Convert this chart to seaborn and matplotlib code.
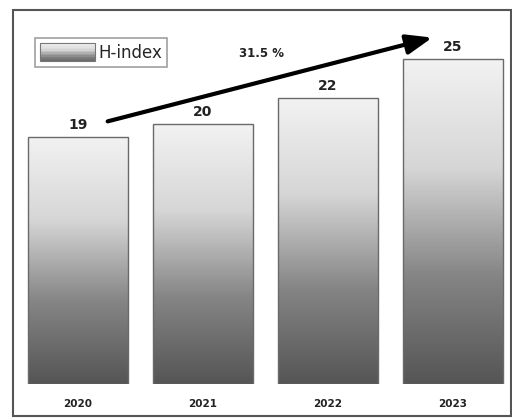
import numpy as np
import pandas as pd
import matplotlib
matplotlib.use("Agg")
import matplotlib.pyplot as plt
import seaborn as sns
from matplotlib.patches import Rectangle
from matplotlib.legend_handler import HandlerBase
from matplotlib.colors import LinearSegmentedColormap

# data
years = ["2020", "2021", "2022", "2023"]
h_index = [19, 20, 22, 25]
growth_label = "31.5 %"

df = pd.DataFrame({"Year": years, "H-index": h_index})

sns.set_theme(style="white")
plt.rcParams["font.family"] = ["DejaVu Sans"]

W, H = 512, 418
fig = plt.figure(figsize=(W / 100, H / 100), dpi=100)
fig.patch.set_facecolor("white")

# axes placed so that the frame lines up with the scanned chart
ax = fig.add_axes([13 / W, (H - 384) / H, 498 / W, 374 / H])
gray_cmap = LinearSegmentedColormap.from_list(
    "scan", ["#555555", "#858585", "#d6d6d6", "#f2f2f2"])

sns.barplot(data=df, x="Year", y="H-index", color="#999999", width=0.8,
            edgecolor="#6a6a6a", linewidth=1.0, ax=ax)

grad = np.linspace(0, 1, 256).reshape(-1, 1)
for p in ax.patches:
    x0, y0 = p.get_x(), p.get_y()
    w, h = p.get_width(), p.get_height()
    im = ax.imshow(grad, cmap=gray_cmap, origin="lower", aspect="auto",
                   extent=[x0, x0 + w, y0, y0 + h], zorder=p.get_zorder() - 0.1)
    im.set_clip_path(p)
    p.set_facecolor("none")

ax.set_xlim(-0.52, 3.464)
ax.set_ylim(0, 28.77)

for i, v in enumerate(h_index):
    ax.text(i, v + 0.35, str(v), ha="center", va="bottom",
            fontsize=10, fontweight="bold", color="#222222")

# growth arrow
ax.annotate("", xy=(2.856, 26.7), xytext=(0.216, 20.15),
            arrowprops=dict(arrowstyle="-|>,head_length=1.3,head_width=0.5",
                            color="black", lw=3))
ax.text(1.47, 25.46, growth_label, ha="center", va="center",
        fontsize=8.5, fontweight="bold", color="#222222")

ax.set_xlabel("")
ax.set_ylabel("")
ax.set_yticks([])
ax.tick_params(axis="x", length=0, pad=11, labelsize=7.5, labelcolor="#222222")
for lbl in ax.get_xticklabels():
    lbl.set_fontweight("bold")
for s in ax.spines.values():
    s.set_visible(False)


class GradientHandler(HandlerBase):
    def create_artists(self, legend, orig_handle, xdescent, ydescent,
                       width, height, fontsize, trans):
        n = 12
        arts = []
        for k in range(n):
            c = gray_cmap(0.15 + 0.8 * k / (n - 1))
            arts.append(Rectangle((-xdescent, -ydescent + k * height / n),
                                  width, height / n, facecolor=c,
                                  edgecolor="none", transform=trans))
        arts.append(Rectangle((-xdescent, -ydescent), width, height,
                              facecolor="none", edgecolor="#777777",
                              lw=0.8, transform=trans))
        return arts


handle = Rectangle((0, 0), 1, 1)
leg = ax.legend([handle], ["H-index"], handler_map={Rectangle: GradientHandler()},
                loc="upper left", bbox_to_anchor=(0.044, 0.925), frameon=True,
                fancybox=False, edgecolor="#888888", fontsize=12,
                handlelength=3.3, handleheight=1.3, handletextpad=0.2,
                borderpad=0.3, borderaxespad=0)
leg.get_frame().set_linewidth(1.2)

# outer frame of the scanned chart
fig.patches.append(Rectangle((13 / W, 2 / H), 498 / W, 406 / H, transform=fig.transFigure,
                             facecolor="none", edgecolor="#555555", lw=1.5))

fig.savefig("out.png", dpi=100)
